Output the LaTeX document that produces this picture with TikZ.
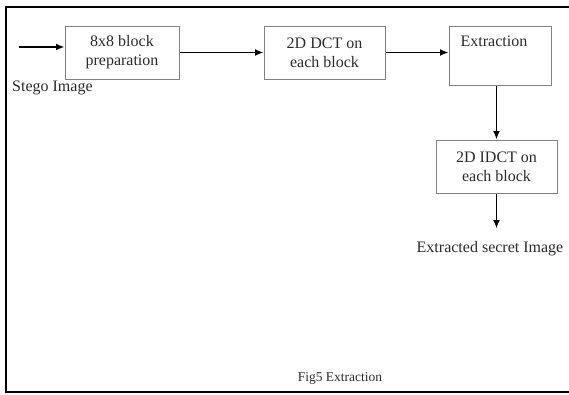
\documentclass[tikz,border=0pt]{standalone}
\usepackage{fontspec}
\setmainfont{Liberation Serif}
\usetikzlibrary{arrows.meta,positioning}
\definecolor{boxdraw}{HTML}{808080}
\definecolor{textdark}{HTML}{2B2B2B}
\tikzset{
  >={Latex[length=8.5pt,width=7pt]},
  procbox/.style={
    draw=boxdraw,
    line width=1pt,
    fill=white,
    align=center,
    text=textdark,
    inner sep=0pt,
    font=\fontsize{16}{19}\selectfont,
  },
  plaintext/.style={text=textdark, inner sep=0pt, font=\fontsize{16}{19}\selectfont},
  flow/.style={->, line width=1.9pt},
  frameline/.style={line width=2.4pt, line cap=butt},
}

\begin{document}
\begin{tikzpicture}[x=1pt, y=-1pt]
  \useasboundingbox (0,0) rectangle (569,394);
  \draw[frameline] (569,7) -- (6,7) -- (6,392) -- (569,392);

  \node[procbox, minimum width=114pt, minimum height=53pt] (prep) at (122,52.5) {8x8 block\\preparation};
  \node[procbox, minimum width=121pt, minimum height=53pt] (dct) at (324.5,52.5) {2D DCT on\\each block};
  \node[procbox, minimum width=102pt, minimum height=59pt,
        label={[plaintext, anchor=north, xshift=-6pt, yshift=-10pt]north:Extraction}] (extr) at (500,55.5) {};
  \node[procbox, minimum width=121pt, minimum height=53pt] (idct) at (496.5,166.5) {2D IDCT on\\each block};

  \node[plaintext, anchor=west] (stego) at (12,88) {Stego Image};
  \node[plaintext] (secret) at (490,249) {Extracted secret Image};
  \node[plaintext, font=\fontsize{13.5}{16}\selectfont] (caption) at (340,378) {Fig5 Extraction};

  \coordinate (in) at (19,47);
  \draw[flow] (in) -- (in -| prep.west);
  \draw[flow] (prep) -- (dct);
  \draw[flow] (dct.east) -- (dct.east -| extr.west);
  \draw[flow] (idct.north |- extr.south) -- (idct.north);
  \draw[flow, shorten >=13pt] (idct.south) -- (idct.south |- secret.north);
\end{tikzpicture}
\end{document}
